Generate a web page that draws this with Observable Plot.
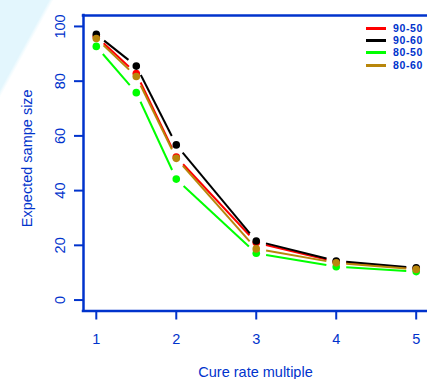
<!DOCTYPE html>
<html><head><meta charset="utf-8">
<script src="https://cdn.jsdelivr.net/npm/d3@7"></script>
<script src="https://cdn.jsdelivr.net/npm/@observablehq/plot@0.6"></script>
<style>
html,body{margin:0;padding:0;}
body{width:427px;height:379px;overflow:hidden;background:linear-gradient(118.7deg,#e3f6fd 0,#e3f6fd 43px,#f2fbfe 45px,#ffffff 47px);font-family:"Liberation Sans",Arial,Helvetica,sans-serif;}
#wrap{position:relative;width:427px;height:379px;}
#legend{position:absolute;left:366px;top:22px;}
.row{display:flex;align-items:center;height:12.4px;overflow:visible;}
.sw{width:20px;height:3px;margin-right:7px;flex:none;}
.lab{font-weight:bold;font-size:10.5px;letter-spacing:0.6px;color:#0033cc;line-height:11px;}
</style></head>
<body><div id="wrap"></div>
<script>
const xValues = [1, 1.5, 2, 3, 4, 5];
const seriesNames = ["90-50", "90-60", "80-50", "80-60"];
const seriesColors = ["#ff0000", "#000000", "#00ff00", "#b8860b"];
const red90_50 = [96.3, 82.8, 52.3, 21.0, 14.0, 11.5];
const black90_60 = [97.1, 85.5, 56.7, 21.6, 14.3, 11.8];
const green80_50 = [92.7, 75.8, 44.2, 17.1, 12.2, 10.4];
const brown80_60 = [95.6, 81.7, 51.8, 18.7, 13.6, 11.2];
const yTicks = [0, 20, 40, 60, 80, 100];
const xTicks = [1, 2, 3, 4, 5];
const xTitle = "Cure rate multiple";
const yTitle = "Expected sampe size";

const seriesValues = [red90_50, black90_60, green80_50, brown80_60];
const blue = "#0033cc";

const marks = [];
marks.push(Plot.ruleY([-4, 104], {stroke: blue, strokeWidth: 2.5, strokeLinecap: "square"}));
marks.push(Plot.ruleX([0.84], {stroke: blue, strokeWidth: 2.5, strokeLinecap: "square"}));
marks.push(Plot.axisX(xTicks, {tickSize: 9, tickPadding: 14, fontSize: 14.5, stroke: blue, fill: blue, strokeWidth: 2, label: null}));
marks.push(Plot.axisY(yTicks, {tickSize: 9, tickFormat: () => "", stroke: blue, strokeWidth: 2, label: null}));
marks.push(Plot.text(yTicks, {y: d => d, text: d => String(d), frameAnchor: "left", dx: -23, rotate: -90, fill: blue, fontSize: 14.5, textAnchor: "middle", lineAnchor: "middle"}));
marks.push(Plot.text([xTitle], {text: d => d, frameAnchor: "bottom", dy: 61.5, fill: blue, fontSize: 14.5, textAnchor: "middle", lineAnchor: "middle"}));
marks.push(Plot.text([yTitle], {text: d => d, frameAnchor: "left", dx: -56, dy: -5, rotate: -90, fill: blue, fontSize: 14.5, textAnchor: "middle", lineAnchor: "middle"}));

seriesNames.forEach((name, i) => {
  const vals = seriesValues[i];
  const pts = xValues.map((x, j) => ({x, y: vals[j]}));
  const segs = pts.slice(1).map((p, j) => ({x1: pts[j].x, y1: pts[j].y, x2: p.x, y2: p.y}));
  marks.push(Plot.arrow(segs, {x1: "x1", y1: "y1", x2: "x2", y2: "y2", stroke: seriesColors[i], strokeWidth: 2, headLength: 0, bend: 0, insetStart: 10, insetEnd: 10, strokeLinecap: "butt"}));
  marks.push(Plot.dot(pts, {x: "x", y: "y", r: 3.8, fill: seriesColors[i]}));
});

const chart = Plot.plot({
  width: 427,
  height: 379,
  marginLeft: 83,
  marginRight: 0,
  marginTop: 15,
  marginBottom: 68.5,
  x: {domain: [0.84, 5.16], range: [83, 428.5]},
  y: {domain: [-4, 104]},
  style: {background: "transparent", color: blue, fontFamily: "Liberation Sans, Arial, Helvetica, sans-serif", fontSize: "14px", overflow: "visible"},
  marks
});
const wrap = document.getElementById("wrap");
wrap.appendChild(chart);

const legend = document.createElement("div");
legend.id = "legend";
seriesNames.forEach((name, i) => {
  const row = document.createElement("div");
  row.className = "row";
  const sw = document.createElement("span");
  sw.className = "sw";
  sw.style.background = seriesColors[i];
  const lab = document.createElement("span");
  lab.className = "lab";
  lab.textContent = name;
  row.appendChild(sw); row.appendChild(lab);
  legend.appendChild(row);
});
wrap.appendChild(legend);
</script>
</body></html>
